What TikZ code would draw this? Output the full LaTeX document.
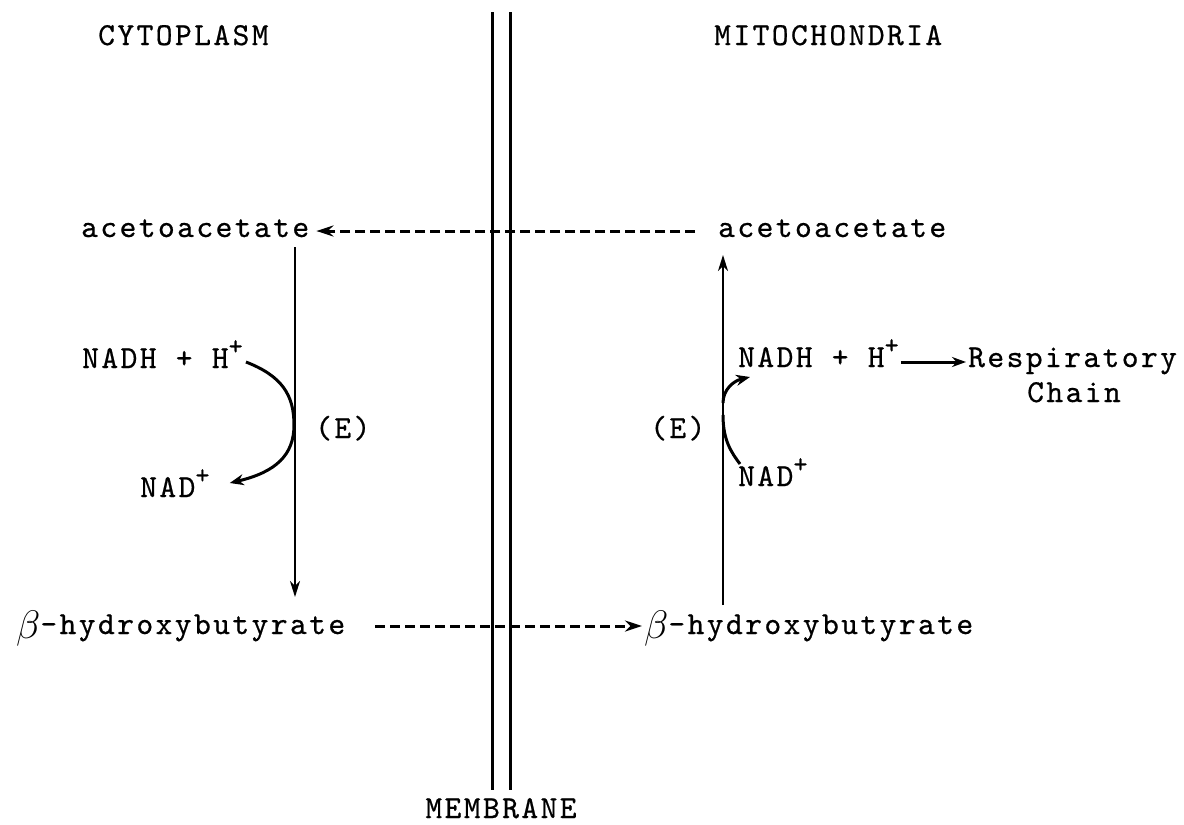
\documentclass[tikz,border=0pt]{standalone}
\usepackage{fontspec}
\newfontfamily\tw[LetterSpace=7.5,FakeBold=0.6]{lmmono10-regular.otf}
\usetikzlibrary{arrows.meta,calc}
% raised plus sign for the ion charges
\newcommand\plusup{\raisebox{0.42em}{\fontsize{27}{27}\selectfont +}}
% enlarged italic beta
\newcommand\bet{\raisebox{-0.14em}{\scalebox{1.6}{$\beta$}}}
\begin{document}
\begin{tikzpicture}[x=1pt,y=-1pt,
  lbl/.style={anchor=base west,inner sep=0pt,font=\tw\fontsize{32}{38}\selectfont},
  membr/.style={line width=3pt},
  transport/.style={line width=3pt,dash pattern=on 10pt off 5pt,-{Stealth[length=17pt,width=11pt]}},
  reaction/.style={line width=2.2pt,-{Stealth[length=16pt,width=10pt,inset=5pt]}},
  cofactor/.style={line width=3pt},
  cofactorhead/.style={cofactor,-{Stealth[length=14pt,width=11pt]}}
]
\useasboundingbox (0,0) rectangle (1184,825);

% membrane
\draw[membr] (492,12) -- (492,790);
\draw[membr] (510,12) -- (510,790);

% labels
\node[lbl] (cyto) at (98,45) {CYTOPLASM};
\node[lbl] (mito) at (714,45) {MITOCHONDRIA};
\node[lbl] (accL) at (81,237) {acetoacetate};
\node[lbl] (accR) at (718,237) {acetoacetate};
\node[lbl] (nadhL) at (82,368) {NADH + H\plusup};
\node[lbl] (nadL) at (140,497) {NAD\plusup};
\node[lbl] (enzL) at (315,438) {(E)};
\node[lbl] (nadhR) at (738,367) {NADH + H\plusup};
\node[lbl] (nadR) at (738,486) {NAD\plusup};
\node[lbl] (enzR) at (650,438) {(E)};
\node[lbl] (resp) at (968,367) {Respiratory};
\node[lbl] (chain) at (1027,402) {Chain};
\node[lbl] (bhbL) at (16,634) {\bet-hydroxybutyrate};
\node[lbl] (bhbR) at (644,634) {\bet-hydroxybutyrate};
\node[lbl,anchor=base] (memlbl) at (501,818) {MEMBRANE};

% transport across the membrane
\draw[transport] ($(accR.base west)+(-23,-6)$) -- ($(accL.base east)+(7,-6)$);
\draw[transport] ($(bhbL.base east)+(30,-8)$) -- ($(bhbR.base west)+(-2,-8)$);

% cytoplasmic reduction
\draw[reaction] ($(accL.base west)+(214,10)$) -- ($(bhbL.base west)+(279,-37)$);
\draw[cofactorhead] ($(nadhL.base east)+(3,-6)$)
  .. controls (282,376) and (294,395) .. (294,425)
  .. controls (294,455) and (276,472) .. ($(nadL.base east)+(20,-14)$);

% mitochondrial oxidation
\draw[reaction] ($(bhbR.base west)+(79,-29)$) -- ($(accR.base west)+(5,18)$);
\draw[cofactorhead] (723,403) .. controls (723,390) and (733,381) .. ($(nadhR.base west)+(12,10)$);
\draw[cofactor] (723,415) .. controls (723,440) and (731,452) .. ($(nadR.base west)+(2,-22)$);
\draw[line width=3pt,-{Stealth[length=14pt,width=10pt]}] ($(nadhR.base east)+(2,-5)$) -- ($(resp.base west)+(-2,-5)$);
\end{tikzpicture}
\end{document}
